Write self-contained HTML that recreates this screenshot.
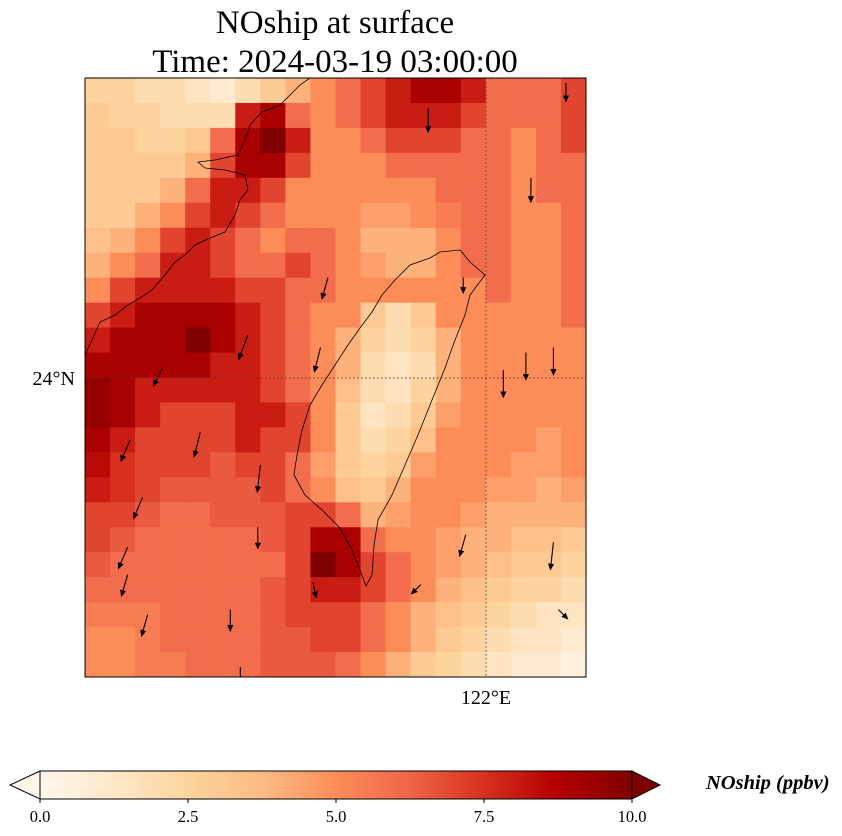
<!DOCTYPE html>
<html><head><meta charset="utf-8">
<style>
body{margin:0;background:#fff;}
svg{display:block;font-family:"Liberation Serif",serif;}
</style></head>
<body>
<svg id="chart" width="842" height="836" viewBox="0 0 842 836">
<defs>
<linearGradient id="cbg" x1="0" x2="1" y1="0" y2="0">
<stop offset="0" stop-color="#fff7ec"/><stop offset="0.125" stop-color="#fee8c8"/><stop offset="0.25" stop-color="#fdd49e"/><stop offset="0.375" stop-color="#fdbb84"/><stop offset="0.5" stop-color="#fc8d59"/><stop offset="0.625" stop-color="#ef6548"/><stop offset="0.75" stop-color="#d7301f"/><stop offset="0.875" stop-color="#b30000"/><stop offset="1" stop-color="#7f0000"/>
</linearGradient>
<clipPath id="mapclip"><rect x="85" y="78" width="501" height="599"/></clipPath>
</defs>
<text x="335" y="33" font-size="33" text-anchor="middle">NOship at surface</text>
<text x="335" y="72" font-size="33" text-anchor="middle">Time: 2024-03-19 03:00:00</text>
<g id="cells" clip-path="url(#mapclip)"></g>
<g clip-path="url(#mapclip)">
<path d="M485,275 L470,262 L460,250 L440,252 L430,258 L410,265 L395,280 L382,295 L372,312 L360,328 L348,345 L335,365 L322,385 L310,405 L302,430 L297,455 L294,475 L305,495 L322,510 L340,528 L352,550 L360,570 L366,586 L372,575 L374,545 L378,520 L392,495 L405,465 L418,435 L432,400 L445,368 L455,340 L465,315 L470,295 Z" fill="none" stroke="#000" stroke-width="0.8"/>
<path d="M85,355 L92,340 L100,322 L115,315 L128,305 L140,298 L152,290 L165,275 L175,262 L185,255 L195,245 L210,238 L225,232 L235,215 L240,200 L248,190 L245,175 L225,170 L205,168 L198,162 L215,160 L238,155 L245,140 L250,125 L262,112 L280,105 L290,95 L300,85 L310,78" fill="none" stroke="#000" stroke-width="0.8"/>
</g>
<g id="arrows" clip-path="url(#mapclip)"></g>
<line x1="486" y1="78" x2="486" y2="677" stroke="#444" stroke-width="1" stroke-dasharray="1.5,2.5"/>
<line x1="85" y1="378" x2="586" y2="378" stroke="#444" stroke-width="1" stroke-dasharray="1.5,2.5"/>
<rect x="85" y="78" width="501" height="599" fill="none" stroke="#000" stroke-width="1"/>
<text x="75" y="385" font-size="20" text-anchor="end">24°N</text>
<text x="486" y="704" font-size="20" text-anchor="middle">122°E</text>
<g>
<polygon points="40,771 10,785 40,799" fill="#fff7ec" stroke="#000" stroke-width="1"/>
<polygon points="632,771 660,785 632,799" fill="#7f0000" stroke="#000" stroke-width="1"/>
<rect x="40" y="771" width="592" height="28" fill="url(#cbg)" stroke="#000" stroke-width="1"/>
<g id="cbticks"></g>
<text x="706" y="789" font-size="20.5" font-weight="bold" font-style="italic">NOship (ppbv)</text>
</g>
</svg>
<script>
const tickValues=[0,2.5,5,7.5,10];
const tickLabels=["0.0","2.5","5.0","7.5","10.0"];
const gridValues=[
[2.5,2.5,2,2,1.5,1,2,3,4,5,6,7,8,9,9,8,6,6,6,7],
[3,2.5,2.5,2,2,2,8,9,6,5,6,7,8,8,8,7,6,6,6,7],
[3,3,2.5,2.5,3,6,9,10,8,5,5,6,7,7,7,6,6,5,6,7],
[3,3,3,3,4,7,9,9,7,5,5,5,6,6,6,6,6,5,6,6],
[3,3,3,4,6,8,8,7,5,5,5,5,5,5,6,6,6,5,6,6],
[3,3,4,5,7,8,7,6,5,5,5,4.5,4.5,5,5.5,6,6,5,5,6],
[3.5,4,5,7,8,7,6,5,6,6,5,4,4,4,5,6,6,5,5,6],
[4,5,6,8,8,7,6,6,7,6,5,4.5,4,4,5,6,6,5,5,6],
[5,7,8,8,8,8,7,7,6,6,5,5,5,5,5,5,6,5,5,6],
[7,8,9,9,9,9,8,7,6,5,5,3,2,3,5,5,5,5,5,6],
[8,9,9,9,10,9,8,7,6,5,4,2.5,2,2.5,4,5,5,5,5,5],
[9,9,9,9,9,8,8,7,6,5,4,2,1.5,2,4,5,5,5,5,5],
[9.5,9,8,8,8,8,8,7,6,5,3.5,2,1.5,2.5,4,5,5,5,5,5],
[9.5,9,8,7,7,7,8,8,7,5,3,1.5,2,3,4.5,5,5,5,5,5],
[9,8,7,7,7,7,8,7,7,5,3,2,2.5,3.5,5,5,5,5,4.5,5],
[8.5,7.5,7,7,7,6.5,7,7,6,4.5,3,2.5,3,4.5,5,5,5,4.5,4.5,5],
[8,7.5,7,6.5,6.5,6.5,6.5,7,6,5,3.5,3,4,5,5,5,4.5,4.5,4,4.5],
[7,7,6.5,6,6,6.5,6.5,6.5,7,7,6,4,4.5,5,5,4.5,4,4,4,4],
[7,6.5,6,6,6,6,6,6.5,7,9,9,6,5,5,4.5,4,4,3.5,3.5,3],
[6.5,6,6,6,6,6,6,6,7,10,9,7,6,5,4.5,4,3.5,3,3,2.5],
[6,6,6,6,6,6,6,6.5,7,8,8,7,6,5,4,3.5,3,2.5,2.5,2],
[5.5,5.5,5.5,6,6,6,6,6.5,7,7,7,6,5,4,3.5,3,2.5,2,1.5,1.5],
[5,5,5.5,6,6,6,6,6.5,6.5,7,7,6,5,4,3,2.5,2,1.5,1.5,1],
[5,5,5.5,5.5,6,6,6,6.5,6.5,6.5,6,5,4,3,2.5,2,1.5,1,1,0.5]
];
const arrowCol=[13.7,17.8,19.2,9.7,15.1,9.4,6.5,3.1,17.6,18.7,16.7,1.8,4.6,7.0,2.3,6.9,18.7,1.7,15.2,18.9,2.5,1.7,9.1,13.4,5.8,6.2];
const arrowRow=[1.2,4.0,0.2,8.0,8.0,10.8,10.3,11.6,11.0,10.8,11.7,14.5,14.2,15.5,16.8,18.0,18.6,18.8,18.3,21.3,21.5,19.9,20.2,20.3,21.3,23.6];
const arrowU=[0,0,0,-0.2,0,-0.2,-0.3,-0.3,0,0,0,-0.3,-0.2,-0.1,-0.3,0,-0.1,-0.3,-0.2,0.3,-0.2,-0.2,0.1,-0.3,0,0];
const arrowV=[0.8,0.8,0.6,0.7,0.5,0.8,0.8,0.6,0.9,0.9,0.9,0.7,0.8,0.9,0.7,0.7,0.9,0.7,0.7,0.3,0.7,0.7,0.5,0.3,0.7,0.6];
const vmin=0,vmax=10;
const cbX0=40,cbX1=632;
const mapX0=85,mapY0=78,cell=25.05,cellH=24.96;
const stops=["#fff7ec","#fee8c8","#fdd49e","#fdbb84","#fc8d59","#ef6548","#d7301f","#b30000","#7f0000"];
function hex(c){return [1,3,5].map(i=>parseInt(c.substr(i,2),16));}
function cmap(v){let t=Math.max(0,Math.min(1,(v-vmin)/(vmax-vmin)))*(stops.length-1);let i=Math.min(stops.length-2,Math.floor(t));let f=t-i;let a=hex(stops[i]),b=hex(stops[i+1]);return "rgb("+a.map((x,k)=>Math.round(x+(b[k]-x)*f)).join(",")+")";}
function xCell(c){return mapX0+c*cell;}
function yCell(r){return mapY0+r*cellH;}
function xCb(v){return cbX0+(v-vmin)/(vmax-vmin)*(cbX1-cbX0);}
const NS="http://www.w3.org/2000/svg";
const g=document.getElementById("cells");
gridValues.forEach((row,r)=>row.forEach((v,c)=>{
 const el=document.createElementNS(NS,"rect");
 el.setAttribute("x",xCell(c));el.setAttribute("y",yCell(r));
 el.setAttribute("width",cell+0.6);el.setAttribute("height",cellH+0.6);
 el.setAttribute("fill",cmap(v));
 
 
 g.appendChild(el);
}));
const ag=document.getElementById("arrows");
const scale=30;
arrowCol.forEach((c,i)=>{
 const x0=xCell(c),y0=yCell(arrowRow[i]);
 const x1=x0+arrowU[i]*scale,y1=y0+arrowV[i]*scale;
 const ang=Math.atan2(y1-y0,x1-x0);
 const p=document.createElementNS(NS,"path");
 const hl=5,hw=2.2;
 const bx=x1-hl*Math.cos(ang),by=y1-hl*Math.sin(ang);
 const lx=bx+hw*Math.sin(ang),ly=by-hw*Math.cos(ang);
 const rx=bx-hw*Math.sin(ang),ry=by+hw*Math.cos(ang);
 p.setAttribute("d",`M${x0},${y0} L${bx},${by} M${x1},${y1} L${lx},${ly} L${rx},${ry} Z`);
 p.setAttribute("stroke","#000");p.setAttribute("stroke-width","1.1");p.setAttribute("fill","#000");
 
 
 ag.appendChild(p);
});
const tg=document.getElementById("cbticks");
tickValues.forEach((v,i)=>{
 const x=xCb(v);
 const l=document.createElementNS(NS,"line");
 l.setAttribute("x1",x);l.setAttribute("x2",x);l.setAttribute("y1",799);l.setAttribute("y2",803);l.setAttribute("stroke","#000");
 
 
 tg.appendChild(l);
 const t=document.createElementNS(NS,"text");
 t.setAttribute("x",x);t.setAttribute("y",822);t.setAttribute("font-size","16.5");t.setAttribute("text-anchor","middle");
 t.textContent=tickLabels[i];
 
 
 tg.appendChild(t);
});
</script>
</body></html>
